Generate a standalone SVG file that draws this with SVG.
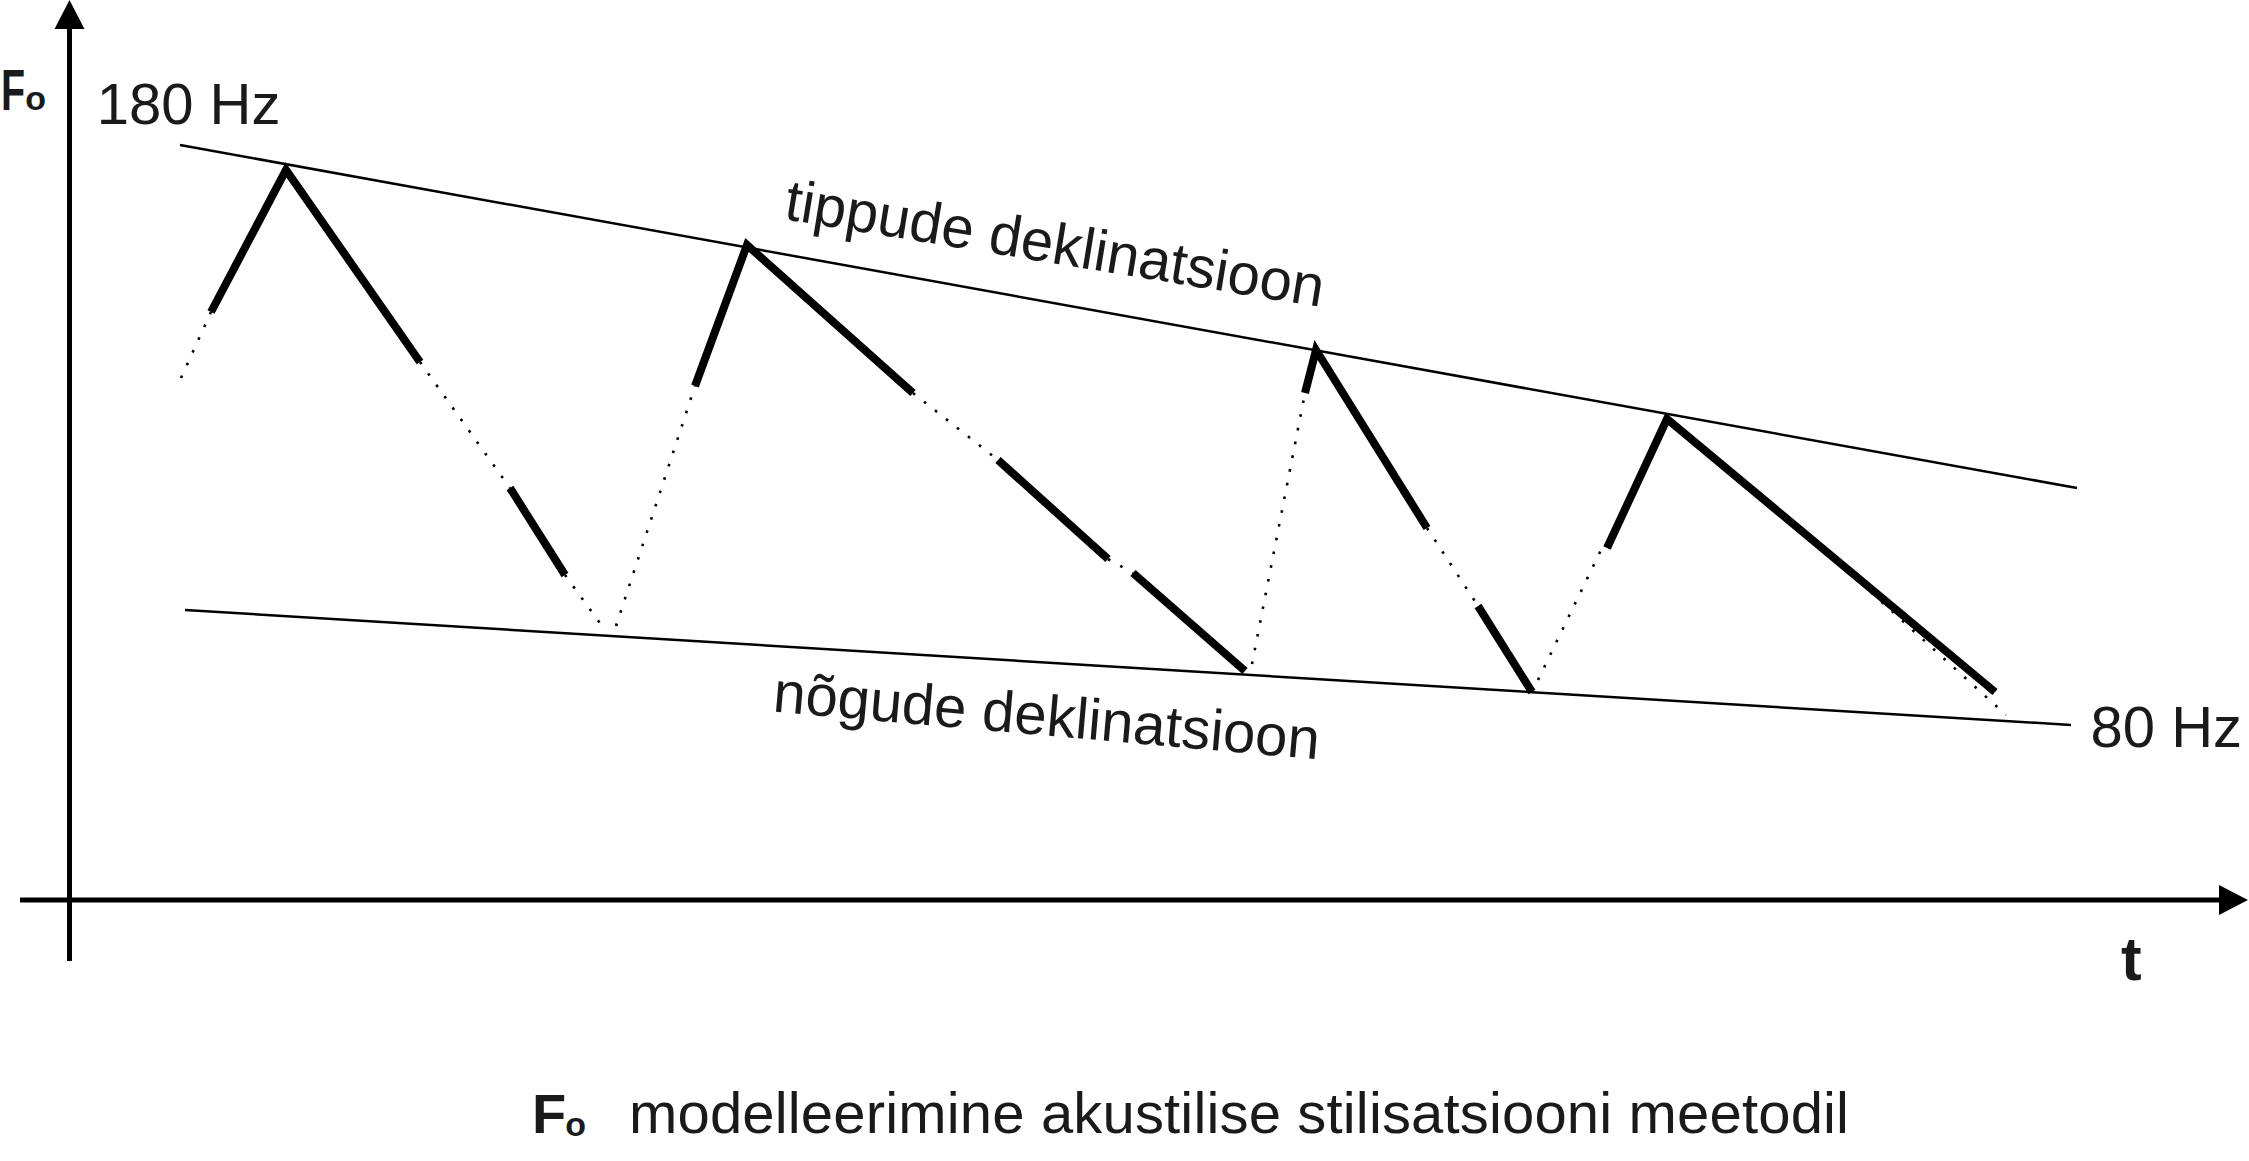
<svg xmlns="http://www.w3.org/2000/svg" width="2249" height="1161" viewBox="0 0 2249 1161">
<style>
  .axis { stroke:#000; stroke-width:5; fill:none; }
  .decl { stroke:#000; stroke-width:2.5; fill:none; }
  .thick { stroke:#000; stroke-width:8; fill:none; stroke-linejoin:miter; stroke-miterlimit:10; stroke-linecap:butt; }
  .dot { stroke:#000; stroke-width:2.6; fill:none; stroke-dasharray:2.6 11.4; }
  .lbl { font-family:"Liberation Sans", Arial, sans-serif; fill:#1a1a1a; font-size:58px; }
  .bold { font-weight:bold; }
</style>
<rect width="2249" height="1161" fill="#fff"/>
<g id="axes">
  <line class="axis" x1="69.5" y1="961" x2="69.5" y2="26"/>
  <polygon points="69.5,0 84.5,29 54.5,29" fill="#000"/>
  <line class="axis" x1="20" y1="900" x2="2222" y2="900"/>
  <polygon points="2248,900 2219,885 2219,915" fill="#000"/>
</g>
<g id="declination-lines">
  <line id="peak-line" class="decl" x1="180" y1="145" x2="2077" y2="488"/>
  <line id="trough-line" class="decl" x1="185" y1="610" x2="2071" y2="725"/>
</g>
<g id="contour">
  <g id="thick-segments">
    <path class="thick" d="M211,312 L286,170 L420,362"/>
    <path class="thick" d="M510,488 L565,575"/>
    <path class="thick" d="M695,386 L747,245 L913,393"/>
    <path class="thick" d="M998,460 L1108,559"/>
    <path class="thick" d="M1133,573 L1245,671"/>
    <path class="thick" d="M1305,393 L1316,350 L1427,528"/>
    <path class="thick" d="M1478,606 L1532,692"/>
    <path class="thick" d="M1607,548 L1667,419 L1995,692"/>
  </g>
  <g id="dotted-segments">
    <line class="dot" x1="181" y1="378" x2="211" y2="312"/>
    <line class="dot" x1="420" y1="362" x2="510" y2="488"/>
    <line class="dot" x1="565" y1="575" x2="605" y2="630"/>
    <line class="dot" x1="616" y1="626" x2="695" y2="386"/>
    <line class="dot" x1="913" y1="393" x2="998" y2="460"/>
    <line class="dot" x1="1108" y1="559" x2="1133" y2="573"/>
    <line class="dot" x1="1252" y1="664" x2="1305" y2="393"/>
    <line class="dot" x1="1427" y1="528" x2="1478" y2="606"/>
    <line class="dot" x1="1538" y1="680" x2="1602" y2="548"/>
    <line class="dot" x1="1840" y1="564" x2="2006" y2="715"/>
  </g>
</g>
<g id="labels">
  <g id="f0-axis-label">
    <text class="lbl bold" transform="translate(1,110) scale(0.68,1)">F</text>
    <text class="lbl bold" x="25.3" y="109.5" style="font-size:34px">o</text>
  </g>
  <text id="hz180" class="lbl" x="96.7" y="124">180 Hz</text>
  <text id="hz80" class="lbl" x="2090.5" y="747">80 Hz</text>
  <text id="t-label" class="lbl bold" x="2121" y="980" style="font-size:62px">t</text>
  <text id="peak-label" class="lbl" transform="translate(783,219) rotate(9.3)">tippude deklinatsioon</text>
  <text id="trough-label" class="lbl" transform="translate(772,711.5) rotate(5)">nõgude deklinatsioon</text>
  <g id="caption">
    <text class="lbl bold" x="532" y="1133" style="font-size:56px">F<tspan dx="-1" dy="2.5" style="font-size:34px">o</tspan></text>
    <text class="lbl" x="629" y="1133" textLength="1220" lengthAdjust="spacing">modelleerimine akustilise stilisatsiooni meetodil</text>
  </g>
</g>
</svg>
